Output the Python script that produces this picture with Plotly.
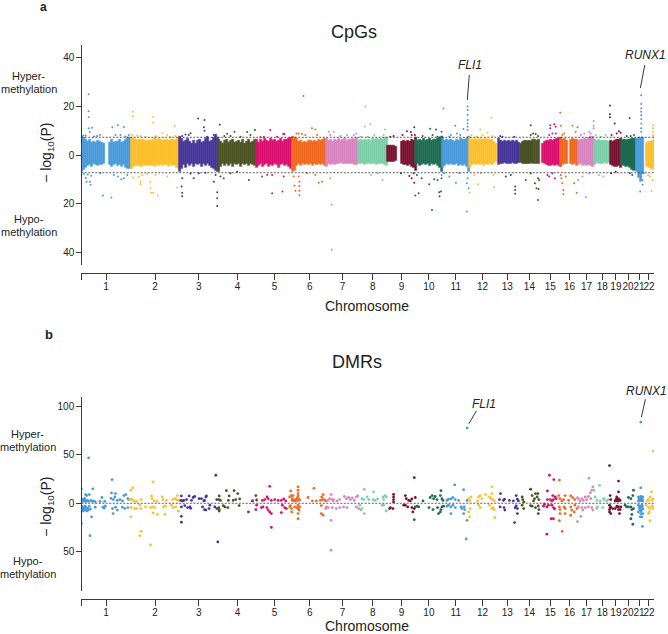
import plotly.graph_objects as go

W, H = 668, 634

chrom_names = [str(i) for i in range(1, 23)]
# chromosome lengths, Mb
chrom_len = [249, 243, 198, 191, 181, 171, 159, 146, 141, 135, 135, 134,
             115, 107, 102.5, 90, 81, 78, 59, 63, 48, 51]
chrom_colors = ["#4A9ADB", "#FBC02D", "#46359A", "#4B5324", "#D9106F", "#EE6A1E", "#D985C0",
                "#7DD0A8", "#7A1231", "#1E6B52", "#4A9ADB", "#FBC02D", "#46359A", "#4B5324",
                "#D9106F", "#EE6A1E", "#D985C0", "#7DD0A8", "#7A1231", "#1E6B52", "#4A9ADB", "#FBC02D"]
chrom_halo = ["rgba(74,154,219,0.5)", "rgba(251,192,45,0.5)", "rgba(70,53,154,0.5)", "rgba(75,83,36,0.5)",
              "rgba(217,16,111,0.5)", "rgba(238,106,30,0.5)", "rgba(217,133,192,0.5)",
              "rgba(125,208,168,0.5)", "rgba(122,18,49,0.5)", "rgba(30,107,82,0.5)",
              "rgba(74,154,219,0.5)", "rgba(251,192,45,0.5)", "rgba(70,53,154,0.5)", "rgba(75,83,36,0.5)",
              "rgba(217,16,111,0.5)", "rgba(238,106,30,0.5)", "rgba(217,133,192,0.5)",
              "rgba(125,208,168,0.5)", "rgba(122,18,49,0.5)", "rgba(30,107,82,0.5)",
              "rgba(74,154,219,0.5)", "rgba(251,192,45,0.5)"]

# CpGs: edge of the solid band, one value per 10 Mb bin along each chromosome
band_top = [
    [7.4, 6.8, 6.2, 5.5, 6.1, 5.0, 5.4, 4.9, 5.6, 5.4, 5.0, 4.6, None, None, 5.1, 6.0, 5.0, 5.5, 5.2, 6.1, 5.0, 5.4, 6.2, 6.8, 7.1],
    [7.2, 6.4, 6.0, 5.6, 6.3, 5.7, 6.1, 5.5, 5.9, 5.6, 5.7, 6.2, 6.9, 6.1, 6.6, 6.0, 5.7, 6.2, 6.0, 5.6, 6.3, 6.1, 5.8, 6.5, 7.0],
    [7.3, 6.4, 5.4, 5.9, 6.6, 5.2, 4.6, 5.6, 4.4, 5.8, 6.3, 4.8, 5.4, 6.6, 6.9, 5.4, 5.9, 7.2, 8.2, 7.0],
    [6.2, 5.4, 4.6, 5.6, 6.2, 5.0, 5.8, 6.3, 4.8, 5.2, 5.9, 5.1, 6.1, 4.7, 5.5, 6.1, 5.0, 5.4, 6.0, 5.1],
    [6.3, 5.1, 6.0, 5.4, 6.4, 5.6, 5.2, 6.5, 5.6, 6.2, 5.3, 5.8, 6.6, 5.5, 6.0, 6.3, 6.6, 7.1],
    [7.4, 7.0, 6.4, 5.4, 5.8, 5.1, 5.5, 5.0, 5.7, 5.6, 5.2, 5.9, 5.4, 6.1, 5.6, 6.2, 6.4],
    [6.6, 5.8, 6.3, 5.5, 6.0, 5.7, 6.4, 5.8, 6.0, 6.5, 5.9, 6.3, 6.0, 6.6, 6.3, 6.9],
    [5.8, 6.1, 5.7, 6.3, 5.9, 6.2, 5.8, 6.5, 6.0, 6.4, 6.2, 6.7, 6.3, 6.9, 7.2],
    [3.8, 3.7, 3.9, 3.6, 3.5, None, None, 5.2, 5.6, 5.4, 5.8, 5.5, 6.0, 5.7, 7.0],
    [6.2, 5.8, 6.3, 5.9, 6.4, 5.6, 6.0, 6.5, 5.7, 6.2, 6.0, 6.4, 6.8, 7.4],
    [6.4, 5.6, 6.1, 5.7, 6.3, 5.8, 5.5, 6.2, 5.9, 6.4, 6.0, 6.3, 6.7, 7.4],
    [7.0, 6.2, 6.0, 6.4, 5.8, 6.5, 6.2, 6.0, 6.6, 6.3, 6.1, 6.0, 5.2, 4.4],
    [None, 6.4, 5.8, 5.5, 5.9, 5.3, 5.7, 5.4, 5.8, 5.3, 5.6, 4.8],
    [None, 4.6, 5.4, 5.8, 5.2, 5.7, 5.4, 6.0, 6.2, 5.8, 6.3],
    [None, 4.4, 5.4, 5.7, 5.9, 6.1, 5.8, 6.2, 6.4, 6.5, 6.8],
    [6.6, 6.0, 6.4, 5.8, None, 6.2, 6.6, 6.3, 6.0],
    [5.8, 6.2, 6.0, 6.4, 6.2, 6.8, 7.4, 7.6, 6.2],
    [5.6, 5.8, 6.0, 5.7, 5.9, 5.6, 5.8, 5.2],
    [5.7, 5.4, 5.8, 6.2, 6.3, 6.6],
    [5.9, 6.3, 5.8, 6.2, 6.0, 6.4, 6.6],
    [None, 6.6, 7.0, 6.8, 7.2],
    [None, 4.8, 5.4, 5.2, 5.6, 7.4],
]
band_bot = [
    [-6.8, -6.2, -5.2, -4.6, -4.2, -5.0, -3.9, -4.1, -4.6, -4.2, -4.0, -3.8, None, None, -4.2, -4.8, -4.1, -3.9, -4.4, -4.0, -5.0, -4.2, -5.2, -5.8, -5.6],
    [-5.8, -5.0, -4.4, -4.7, -4.2, -5.1, -4.0, -4.3, -4.6, -4.1, -4.4, -4.0, -4.8, -4.2, -4.4, -4.1, -4.6, -4.0, -4.3, -5.0, -4.2, -4.7, -4.4, -5.2, -5.6],
    [-7.0, -5.6, -4.2, -5.2, -3.8, -4.4, -3.6, -5.0, -3.9, -4.2, -3.6, -4.8, -3.8, -4.4, -3.7, -4.6, -5.2, -5.8, -6.4, -7.0],
    [-6.8, -5.0, -3.6, -4.4, -3.5, -4.6, -3.8, -4.8, -3.6, -4.2, -3.8, -4.9, -3.7, -4.3, -3.6, -4.4, -3.7, -4.2, -4.6, -3.9],
    [-5.4, -4.6, -3.9, -5.0, -4.2, -3.8, -4.9, -4.0, -4.6, -3.9, -4.2, -5.2, -4.1, -3.9, -4.6, -4.0, -4.8, -5.8],
    [-7.2, -6.4, -4.6, -3.8, -4.4, -3.7, -4.0, -3.5, -4.2, -3.7, -4.5, -3.6, -4.0, -3.7, -4.1, -3.8, -4.6],
    [-4.8, -3.8, -4.2, -3.6, -4.0, -3.5, -3.9, -3.4, -3.7, -3.5, -3.8, -3.6, -3.9, -3.6, -4.0, -4.2],
    [-3.6, -3.9, -3.5, -4.0, -3.6, -3.8, -3.5, -3.9, -3.6, -4.0, -3.7, -3.9, -3.6, -4.1, -4.5],
    [-2.9, -2.7, -3.0, -2.8, -2.6, None, None, -3.8, -4.3, -4.0, -4.6, -4.2, -4.8, -5.2, -6.4],
    [-4.2, -3.9, -4.4, -4.0, -3.7, -4.2, -3.8, -4.5, -3.9, -4.2, -3.8, -4.4, -5.2, -7.0],
    [-5.2, -4.4, -3.9, -4.2, -3.7, -4.3, -4.0, -3.8, -4.4, -4.0, -4.6, -4.2, -5.0, -7.0],
    [-5.4, -4.2, -3.9, -4.3, -3.8, -4.2, -3.9, -4.4, -3.8, -4.1, -3.9, -4.3, -3.6, -3.0],
    [None, -4.2, -3.6, -3.9, -3.4, -3.8, -3.5, -3.7, -3.4, -3.8, -3.5, -3.2],
    [None, -3.2, -3.6, -3.9, -3.5, -3.8, -3.4, -3.7, -3.5, -3.6, -3.8],
    [None, -3.2, -3.8, -4.2, -4.4, -4.6, -4.3, -4.5, -4.1, -4.4, -4.8],
    [-4.6, -4.0, -3.6, -3.8, None, -3.6, -4.2, -3.8, -4.4],
    [-4.2, -3.8, -4.4, -4.0, -4.6, -4.2, -4.4, -4.8, -4.0],
    [-3.6, -3.4, -3.8, -3.5, -3.7, -3.4, -3.6, -3.2],
    [-4.0, -4.4, -4.8, -5.0, -4.6, -5.2],
    [-4.2, -4.6, -5.0, -4.6, -5.2, -6.0, -6.6],
    [None, -6.8, -9.4, -11.2, -8.0],
    [None, -5.0, -5.4, -5.8, -6.2, -5.0],
]

# CpGs: points outside the band, position along the genome in Mb
cpg_x = [
    [37, 37, 37, 37, 55, 43, 64, 22, 80, 94, 10, 156, 184, 214, 172, 197, 222, 239, 43, 47, 22, 33, 13, 27, 109, 151, 201, 214, 184, 164, 231, 50, 97],
    [259, 259, 361, 361, 470, 408, 432, 256, 281, 298, 323, 373, 448, 473, 261, 289, 298, 298, 348, 348, 351, 361, 385, 432, 482, 306, 373, 331],
    [587, 619, 616, 619, 549, 540, 507, 524, 632, 666, 507, 549, 565, 504, 507, 507, 683, 683, 683, 675, 666, 624, 591],
    [696, 770, 833, 873, 733, 719, 750, 800, 850, 699, 716, 842, 783, 750],
    [950, 1014, 1021, 917, 900, 984, 959, 1011, 908, 934, 959, 1017],
    [1116, 1159, 1176, 1081, 1092, 1109, 1185, 1126, 1071, 1076, 1096, 1096, 1096, 1096, 1193, 1210, 1067, 1092, 1134, 1176],
    [1258, 1258, 1243, 1268, 1251, 1302, 1335, 1369, 1382, 1251],
    [1427, 1452, 1425, 1526, 1519, 1472, 1405, 1439, 1514, 1456, 1489],
    [1673, 1636, 1656, 1614, 1676, 1660, 1569, 1553, 1673, 1660, 1648, 1670, 1606],
    [1753, 1782, 1810, 1812, 1765, 1715, 1790, 1678, 1695, 1748, 1773, 1790, 1810, 1762, 1798, 1807, 1800, 1710, 1686],
    [1820, 1941, 1941, 1941, 1941, 1941, 1941, 1941, 1879, 1920, 1887, 1857, 1849, 1904, 1941, 1937, 1946, 1882, 1937, 1810, 1849, 1899, 1824],
    [2061, 2004, 2041, 2016, 1961, 1988, 2066, 1951, 1994, 2074, 2071, 1974, 2008],
    [2180, 2180, 2180, 2105, 2116, 2175, 2133, 2158],
    [2258, 2270, 2258, 2283, 2295, 2295, 2295, 2300, 2287, 2297, 2233, 2279, 2258],
    [2356, 2376, 2383, 2356, 2351, 2367, 2384, 2342, 2351, 2367, 2379],
    [2406, 2409, 2468, 2493, 2426, 2484, 2417, 2412, 2417, 2422, 2422, 2476, 2489, 2409, 2434],
    [2574, 2574, 2574, 2552, 2527, 2510, 2560, 2535, 2496, 2518, 2552],
    [2623, 2601, 2585, 2610, 2635],
    [2656, 2656, 2656, 2680, 2701, 2710, 2690, 2664, 2662, 2685],
    [2755, 2777, 2760, 2740, 2756, 2768],
    [2813, 2813, 2813, 2813, 2813, 2813, 2813, 2813, 2813, 2808, 2820, 2820, 2811, 2825],
    [2873, 2873, 2873, 2873, 2865, 2870, 2857, 2848],
]
cpg_y = [
    [25, 18, 15.5, 11, 11.2, 9.5, 7.6, 8, 7.8, 8.2, 8, 11.4, 12.3, 11.5, 8.2, 8.2, 7.6, 8.2, -11, -12.3, -9.5, -8, -7.8, -11, -16.7, -17.5, -10, -9.6, -8.9, -8.2, -8.2, -8.5, -7.5],
    [17.8, 16, 15.7, 13.3, 12, 9, 8.2, 8.2, 7.9, 7.8, 7.5, 7.8, 7.5, 7.8, -9.3, -8.9, -11, -12, -11, -13.7, -15.5, -15.5, -16.7, -8.9, -13.4, -8.2, -8.2, -7.8],
    [15, 14.4, 11.4, 10, 9, 8.2, 7.8, 8.4, 7.5, 8.2, -9.6, -7.6, -9.6, -13, -15.5, -17, -15.3, -17.8, -21, -8.2, -11, -7.3, -7.5],
    [12.5, 9.6, 9.5, 10.3, 8.7, 7.8, 7.8, 7.5, 8.2, -8.9, -9.6, -10.3, -6.9, -7.5],
    [10.3, 8.6, 8.6, 7.5, 7.3, 7.5, -15.8, -15, -8.9, -8.2, -8.2, -8.9],
    [24.3, 11, 10.5, 8.9, 8.9, 8.6, 8.2, 8.2, -12.7, -14.7, -11, -12.8, -14.7, -16.6, -11.4, -11, -8.9, -8.9, -7.5, -8.2],
    [-20.5, -39, 9.6, 9.6, 8.2, 7.8, 8.2, 8.2, 8.9, -9.6],
    [20, 12.7, 11.6, 10.5, 8.2, 8.2, 7.5, 7.5, -10.3, -8.2, -7.5],
    [11.4, 9.8, 9.5, 8.2, 8.2, 8.2, 7.8, 7.5, -11.4, -9.6, -8.6, -7.5, -7.5],
    [10.8, 10.5, 9.6, 7.5, 8.2, 7.8, 7.5, -16.7, -15.8, -12, -10, -10.3, -9.6, -22.6, -15.3, -15, -17, -9.6, -8.2],
    [19.2, 20, 18.5, 16.5, 14.4, 13, 11.6, 10.3, 12, 10.7, 8.9, 8.2, 7.5, 8.2, -9.6, -11.6, -13.7, -11.4, -23.3, -8.2, -8.9, -7.5, -7.5],
    [15.3, 10.5, 9.2, 8.2, 8.2, 7.5, 7.8, -15.5, -12, -13.3, -8.2, -8.2, -7.5],
    [-13, -14.4, -16, 7.8, 7.5, 7.5, -8.9, -8.2],
    [12.3, 8.9, 8.2, 8.6, 7.8, -18.5, -9.6, -10.3, -13.7, -14, -10.3, -11.6, -7.5],
    [11, 12.7, 11.6, 12.3, 8.2, 8.9, 8.9, -8.2, -8.9, -7.5, -9.6],
    [17.4, 12, 12, 11.4, 8.9, 9.6, 8.2, -9.6, -11.6, -14.4, -16.2, -11.6, -15.5, -8.2, -8.9],
    [14, 12, 11, 9.6, 8.9, 8.2, 8.9, -17.4, -10.3, -8.9, -7.5],
    [-8.9, -8.2, 8.2, 7.5, 8.2],
    [20.4, 16.8, 15.5, 13, 9.8, 9.2, 8.9, 8.2, -7.5, -6.9],
    [15.2, 8.2, 7.8, 7.8, -7.5, -8.2],
    [24.6, 21, 19.2, 17.8, 16.4, 14.8, 13, 11, 9.6, -15, -12.3, -10.3, -8.9, -7.5],
    [12.3, 11, 9.6, 8.2, -14.8, -10.3, -8.9, -8.2],
]

# DMRs: every region, position along the genome in Mb
dmr_x = [
    [37, 1, 58, 155, 1, 3, 5, 7, 9, 11, 13, 15, 17, 20, 22, 24, 27, 31, 36, 40, 48, 55, 62, 70, 94, 104, 118, 2, 4, 6, 9, 11, 14, 16, 19, 22, 25, 28, 32, 36, 40, 46, 52, 70, 115, 120, 1, 44, 152, 172, 169, 149, 161, 181, 194, 214, 224, 234, 207, 238, 109, 119, 157, 160, 172, 207, 219, 234, 181],
    [259, 249, 244, 254, 264, 278, 301, 353, 355, 366, 381, 407, 412, 428, 458, 470, 478, 483, 488, 361, 251, 249, 268, 278, 294, 299, 323, 348, 358, 370, 361, 383, 420, 412, 423, 453, 462, 475, 488, 301, 294, 348],
    [503, 500, 508, 515, 529, 542, 554, 562, 570, 592, 604, 619, 626, 609, 619, 646, 616, 629, 676, 681, 520, 534, 546, 550, 503, 503, 503, 686, 681, 671, 642, 626],
    [693, 691, 699, 729, 743, 739, 768, 786, 763, 776, 796, 693, 691, 713, 721, 736, 793, 840, 693, 877, 860, 881],
    [947, 933, 910, 922, 939, 955, 972, 989, 1005, 1017, 1027, 913, 905, 933, 947, 955, 939, 1010, 1022, 1005, 1030, 955, 877, 881, 860],
    [1052, 1056, 1047, 1064, 1061, 1067, 1072, 1077, 1084, 1089, 1089, 1089, 1089, 1094, 1097, 1081, 1059, 1087, 1051, 1056, 1057, 1089, 1089, 1089, 1089, 1097, 1094, 1072, 1084, 1139, 1169, 1161, 1181, 1201, 1208, 1215, 1211, 1221, 1228, 1206, 1215, 1206, 1047],
    [1255, 1248, 1240, 1260, 1265, 1228, 1240, 1255, 1255, 1231, 1261, 1268, 1285, 1298, 1322, 1332, 1343, 1352, 1362, 1372, 1382, 1389, 1281, 1298, 1318, 1335, 1382, 1394],
    [1422, 1410, 1419, 1436, 1444, 1469, 1466, 1477, 1489, 1516, 1527, 1519, 1532, 1399, 1410, 1405, 1422, 1511, 1532, 1519],
    [1569, 1569, 1569, 1569, 1553, 1566, 1549, 1628, 1633, 1645, 1653, 1661, 1678, 1673, 1628, 1640, 1661, 1666, 1673, 1620],
    [1717, 1753, 1763, 1770, 1778, 1787, 1807, 1804, 1812, 1817, 1747, 1767, 1790, 1795, 1812, 1807, 1820, 1673, 1678, 1687, 1695, 1804],
    [1876, 1921, 1845, 1857, 1867, 1879, 1837, 1896, 1845, 1857, 1867, 1879, 1857, 1908, 1926, 1921, 1938, 1938, 1934, 1939, 1924, 1912, 1837],
    [1946, 1958, 1951, 1996, 2004, 2013, 1991, 2030, 2063, 2062, 2058, 2068, 2075, 2051, 1946, 1954, 1951, 1996, 2004, 2051, 2068, 2075, 2078, 2063],
    [2106, 2101, 2121, 2126, 2151, 2171, 2185, 2191, 2196, 2104, 2124, 2128, 2185, 2191, 2191, 2177, 2180],
    [2257, 2215, 2218, 2223, 2265, 2282, 2294, 2277, 2299, 2290, 2272, 2265, 2282, 2296, 2296, 2299, 2223, 2215, 2257],
    [2352, 2374, 2342, 2369, 2381, 2372, 2364, 2356, 2386, 2322, 2339, 2364, 2372, 2378, 2361, 2372, 2339, 2327, 2342, 2347],
    [2402, 2399, 2405, 2414, 2431, 2423, 2459, 2469, 2448, 2480, 2402, 2405, 2402, 2426, 2431, 2431, 2416, 2405, 2459, 2464, 2459, 2480, 2490, 2476],
    [2550, 2570, 2565, 2557, 2548, 2532, 2515, 2498, 2523, 2540, 2560, 2493, 2506, 2498, 2515, 2532, 2548, 2565, 2570, 2493, 2510, 2520],
    [2604, 2576, 2582, 2590, 2624, 2607, 2593, 2620, 2590, 2627, 2640, 2648],
    [2654, 2699, 2699, 2657, 2690, 2687, 2699, 2707, 2694, 2682, 2660, 2654, 2657, 2660, 2654, 2670, 2690, 2699, 2704, 2711, 2682, 2707, 2694, 2699, 2689, 2696, 2702, 2692, 2699, 2654, 2660],
    [2774, 2749, 2771, 2761, 2732, 2740, 2761, 2766, 2766, 2761, 2771, 2749, 2774],
    [2811, 2799, 2804, 2808, 2816, 2821, 2811, 2799, 2821, 2799, 2804, 2808, 2811, 2816, 2816, 2821, 2821, 2808, 2799, 2819, 2811, 2806, 2812, 2818, 2803, 2809, 2815, 2806, 2812, 2818, 2806, 2813, 2820],
    [2874, 2864, 2849, 2857, 2866, 2844, 2871, 2838, 2849, 2857, 2866, 2871, 2854, 2857, 2849, 2874],
]
dmr_y = [
    [47, 15, 15, 24.5, 3, 2, 4, 3, 2.5, 4, 3, 2, 5, 3, 9, 2, 8, 3, 2, 9, 3, 2, 2.5, 1.5, 2, 6, 2, -3, -5, -6, -8, -4, -5, -7, -3, -4, -6, -8, -5, -7, -3, -6, -14, -4, -5, -3, -21, -33.5, 10.7, 10, 6.5, 5, 3.8, 3, 3.8, 8, 9, 4.8, 2.4, 3.8, -4, -3, -5.5, -10.7, -4, -4, -5.5, -4.5, -7],
    [16, 13.5, 4, 4, 2.4, 2, 3.8, 7.6, 4.8, 2.4, 2, 6.5, 3.8, 3, 3.8, 4.8, 3.8, 8, 3, 22, -4.5, -14, -5.5, -5.5, -2, -5.5, -3.8, -4.5, -3.8, -4.5, -10, -11.5, -11.5, -3.8, -2.8, -2, -4.5, -3.8, -8, -29, -33.5, -43],
    [7.6, 3, 2.4, 3, 3.8, 7.6, 3, 6, 7, 4.8, 4.8, 3, 6.5, -3.8, -6.5, -2, 2.4, 7.6, 29, 3.8, -2.4, -4.5, -3.8, -5.2, -3.8, -13.5, -19.6, -40, -5.5, -3.8, -5.5, -7],
    [7.6, 3.8, 3, 13, 7.6, 3, 13, 10, 3, 3.8, 4.5, -6.5, -4.5, -2.4, -3.8, -4.5, -2.4, -9, -8, 8, 2.4, 3.4],
    [17.5, 6.5, 3, 3.8, 4.8, 3, 3.8, 3, 3, 4.5, 2.4, -3.8, -4.5, -4.5, -9, -10.7, -7, -2, -4.5, -9.6, -5.5, -25, -6.5, -2, 2.4],
    [12.7, 8, 6.5, 8, 4.8, 3, 2.4, 3.8, 4.8, 17, 13.5, 10, 7.6, 3, 3.8, 2.4, 3, 5.8, -2.4, -5.5, -9, -2, -5.5, -10.7, -16, -3.8, -7, -3.8, -4.5, 6, 15.5, 2.4, 2.4, 3, 6.5, 9, 3.8, 3.8, 2.4, -10.7, -12.4, -2.4, -3.8],
    [9, 4.8, 3, 3.8, 2.4, -5.5, -4.5, -17.6, -48.6, -3.8, -4.5, 3.8, 2.4, 3.8, 7, 4.8, 6, 3.8, 5.5, 3, 6.5, 7.6, -5.5, -4.5, -3.8, -4.5, -3.8, -5.5],
    [14.5, 4.8, 3.8, 6.5, 3.8, 11.7, 3.8, 3, 4.5, 6.5, 8, 3.8, 6.5, -2, -5.5, -7, -10.7, -2, -8, -2],
    [9.3, 6.5, 3.8, 1.4, -4.5, -5.5, -5.5, 8, 4.8, 3, 2.4, 4.5, 6, 26.5, -2, -3.8, -4.5, -9, -5.5, -2],
    [2.4, 6, 8, 4.8, 7, 3.8, 13, 8, 4.8, 3, -4.5, -6.5, -4.5, -10.7, -3.8, -6.5, -3, -17, -3.8, -3, -3.8, -9],
    [19, 14, 4.2, 4.5, 6, 3.8, 3, 3, -2, -3.8, -2, -4.5, -10.7, -3.8, -6.5, -10.7, -17.6, 3, -37, 78, -3.8, -5.5, -3],
    [4.8, 6.5, 2.4, 6.5, 8, 4.8, 2.4, 9, 17, 10, 4.8, 3.8, 2.4, 6.5, -9, -5.5, -14, -2, -4.5, -2, -4.5, -6.5, -15, -5.5],
    [10, 3.8, 3, 4.2, 3, 2.4, 8, 4.2, 2.4, -3.8, -4.5, -7, -2.8, -5.5, -10.7, -20, -4.5],
    [14.5, 6.5, 3.8, 1.4, 8, 10, 10, 4.8, 3.8, 6.5, 2.4, -3, -4.5, -2.8, -10.7, -6.5, -5.5, -2, -2.4],
    [29, 24.5, 12.7, 8, 6.5, 3.8, 2.4, 3.8, 4.8, -3, -3.8, -2, -4.5, -5.8, -16, -16, -32, -1, 3.8, -2],
    [24, 8, 4.8, 2.4, 8, 3.8, 7.6, 5.8, 3, 3.8, -3.8, -10.7, -18, -3.8, -10.7, -5.5, -29, -6.5, -3.8, -7, -12.4, -2, -5.5, -9],
    [26, 17, 13.5, 10.7, 7, 6.5, 4.8, 4.8, 3, 3.8, 4.8, 5.8, 2.4, -3.8, -4.5, -4.5, -3.8, -4.5, -7, -19, -13.5, -7],
    [18.6, 13.5, 6.5, 3, 4.8, 2.4, -3.8, -4.5, -5.5, 3.8, 2.4, 3.8],
    [39, 23, 11.7, 8, 6.5, 3.8, 4.8, 3, 2.4, 2.4, 3.8, -2, -4.5, -10.7, -9, -5.5, -3.8, -6.5, -10.7, -3.8, -5.5, -6.5, 3, 3.8, 4.5, 2.4, 3, -3, -3.8, -6.5, -4],
    [13.5, 6, 8, 4.8, -2, -3.8, -3.8, -6.5, -11.5, -16, -21.7, -3.8, -5.5],
    [16, 6.5, 4.8, 3.8, 4.8, 3, 7, 2.4, 6.5, -2, -4.5, -7, -10.7, -14, -2, -5.5, -10.7, -14, -9, -24, 84, 2.4, 3.8, 2.4, 4.2, 5.5, 3.2, -3, -3.8, -3, -6, -8, -6],
    [54, 11.7, 3.8, 6.5, 3, 2.4, 4.5, -2, -3.8, -5.5, -2.8, -3.8, -9, -18, -10.7, -5.5],
]

threshold_cpg = 7.3
threshold_dmr = 0.0

y_ticks_cpg = [40, 20, 0, -20, -40]
y_tick_text_cpg = ["40", "20", "0", "20", "40"]
y_ticks_dmr = [100, 50, 0, -50]
y_tick_text_dmr = ["100", "50", "0", "50"]

FONT = "Liberation Sans, Arial, sans-serif"
INK = "#3a3a3a"


def px(x):
    return x / W


def py(y):
    return 1 - y / H


offsets = [sum(chrom_len[:i]) for i in range(len(chrom_len))]
genome_len = sum(chrom_len)
tick_pos = [0] + [offsets[i] + chrom_len[i] / 2 for i in range(len(chrom_len))]
tick_text = [" "] + chrom_names

fig = go.Figure()

# solid band of CpGs, drawn as 10 Mb bars from lower edge to upper edge
for i, name in enumerate(chrom_names):
    xs, bases, heights = [], [], []
    for j, (t, b) in enumerate(zip(band_top[i], band_bot[i])):
        if t is None:
            continue
        xs.append(offsets[i] + (j + 0.5) * 10)
        bases.append(b)
        heights.append(t - b)
    fig.add_trace(go.Bar(x=xs, y=heights, base=bases, width=10.4, name=name,
                         marker=dict(color=chrom_colors[i], line=dict(width=1.3, color=chrom_halo[i])),
                         xaxis="x", yaxis="y", showlegend=False))

for i, name in enumerate(chrom_names):
    fig.add_trace(go.Scatter(x=cpg_x[i], y=cpg_y[i], mode="markers", name=name,
                             marker=dict(color=chrom_colors[i], size=2, line=dict(width=0)),
                             xaxis="x", yaxis="y", showlegend=False))
    fig.add_trace(go.Scatter(x=dmr_x[i], y=dmr_y[i], mode="markers", name=name,
                             marker=dict(color=chrom_colors[i], size=2.8, line=dict(width=0)),
                             xaxis="x2", yaxis="y2", showlegend=False))

x_axis = dict(domain=[px(80.5), px(655)], range=[0, genome_len], tickmode="array",
              tickvals=tick_pos, ticktext=tick_text, tickangle=0, ticks="outside", ticklen=6,
              tickwidth=1, tickcolor=INK, showline=True, linecolor=INK, linewidth=1,
              showgrid=False, zeroline=False, anchor="free", ticklabelstandoff=-2,
              tickfont=dict(family=FONT, size=10, color="#222"))
y_axis = dict(ticks="outside", ticklen=5, tickwidth=1, tickcolor=INK, showline=True,
              linecolor=INK, linewidth=1, showgrid=False, zeroline=False, anchor="free",
              position=px(80.5), tickmode="array",
              tickfont=dict(family=FONT, size=10, color="#222"))

shapes = []
for yval in (threshold_cpg, -threshold_cpg):
    shapes.append(dict(type="line", xref="x", yref="y", x0=0, x1=genome_len, y0=yval, y1=yval,
                       line=dict(color="#333", width=0.8, dash="2px,1.5px")))
shapes.append(dict(type="line", xref="x2", yref="y2", x0=0, x1=genome_len,
                   y0=threshold_dmr, y1=threshold_dmr,
                   line=dict(color="#333", width=0.8, dash="2px,1.5px")))
# leader lines from gene labels
for x0, y0, x1, y1 in [(469.7, 75, 467.7, 100), (645.7, 65, 641.3, 88),
                       (476.7, 411, 469.3, 423.7), (646.3, 399.3, 642.3, 417)]:
    shapes.append(dict(type="line", xref="paper", yref="paper", x0=px(x0), x1=px(x1),
                       y0=py(y0), y1=py(y1), line=dict(color="#222", width=0.9)))

annotations = []


def label(text, x, y, size=11, angle=0):
    annotations.append(dict(text=text, x=px(x), y=py(y), xref="paper", yref="paper",
                            showarrow=False, xanchor="center", yanchor="middle", textangle=angle,
                            font=dict(family=FONT, size=size, color="#222")))


label("<b>a</b>", 43, 7, 12)
label("<b>b</b>", 48, 334, 13)
label("CpGs", 354, 32, 18)
label("DMRs", 357, 362, 18)
label("Chromosome", 367.5, 306, 14)
label("Chromosome", 367.5, 625.5, 14)
label("Hyper-", 28, 76)
label("methylation", 28, 89)
label("Hypo-", 28, 219)
label("methylation", 28, 232)
label("Hyper-", 27, 434)
label("methylation", 27, 447)
label("Hypo-", 27, 561)
label("methylation", 27, 574)
label("− log<sub>10</sub>(P)", 46, 153, 14, -90)
label("− log<sub>10</sub>(P)", 46, 507, 14, -90)
label("<i>FLI1</i>", 470, 65, 12)
label("<i>RUNX1</i>", 646, 55, 12)
label("<i>FLI1</i>", 484, 404, 12)
label("<i>RUNX1</i>", 647, 391, 12)

fig.update_layout(
    width=W, height=H, margin=dict(l=0, r=0, t=0, b=0),
    paper_bgcolor="white", plot_bgcolor="white",
    barmode="overlay", bargap=0, showlegend=False,
    font=dict(family=FONT),
    xaxis=dict(x_axis, position=py(272.7)),
    xaxis2=dict(x_axis, position=py(598.7)),
    yaxis=dict(y_axis, domain=[py(265), py(45)], range=[-45.3, 45.3],
               tickvals=y_ticks_cpg, ticktext=y_tick_text_cpg),
    yaxis2=dict(y_axis, domain=[py(591), py(397)], range=[-90.8, 110],
                tickvals=y_ticks_dmr, ticktext=y_tick_text_dmr),
    shapes=shapes, annotations=annotations,
)

fig.write_html("out.html", config={"displayModeBar": False},
               post_script="document.body.style.margin='0';")
